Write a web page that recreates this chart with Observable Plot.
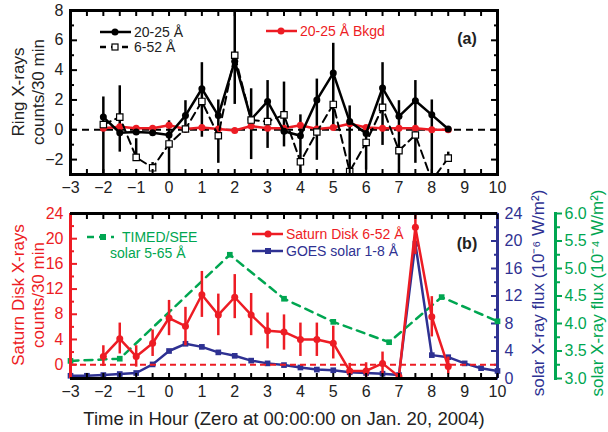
<!DOCTYPE html>
<html><head><meta charset="utf-8">
<script src="https://cdn.jsdelivr.net/npm/d3@7"></script>
<script src="https://cdn.jsdelivr.net/npm/@observablehq/plot@0.6"></script>
<style>
body{margin:0;background:#fff;}
#wrap{position:relative;width:608px;height:432px;font-family:"Liberation Sans",Arial,sans-serif;overflow:hidden;}
#wrap svg{position:absolute;left:0;}
</style></head><body><div id="wrap"></div>
<script>
// ---------- Panel (a): Ring X-rays ----------
const ringHours = [-2,-1.5,-1,-0.5,0,0.5,1,1.5,2,2.5,3,3.5,4,4.5,5,5.5,6,6.5,7,7.5,8,8.5];
const ring2025  = [0.85,-0.2,-0.15,-0.2,-0.35,0.95,2.75,0.95,4.6,0.7,1.9,-0.1,-0.4,2.0,3.8,0.55,-0.25,2.8,0.9,1.95,1.0,0.05];
const ring652   = [0.35,0.85,-1.85,-2.55,-0.95,0.05,1.9,-0.4,5.0,0.65,0.55,1.0,-2.15,-0.15,1.7,-2.8,-0.85,1.5,-1.4,-0.35,-3.4,-1.9];
const ringBkgd  = [0.1,0.2,0.1,0.1,0.3,0.05,0.15,0.05,-0.05,0.25,0.1,0.1,0.3,0.05,0.15,0.4,0.15,0.1,0.1,0.1,0.0,0.0];
const ringErrLo = [-3,-1.5,-1.7,-2.55,-3,-0.25,-0.5,-2.25,1.7,-2.0,-1.25,-1.15,-3,-2.05,0,-3,-2.7,-1.05,-3,-2.25,-3,-2.15];
const ringErrHi = [2.2,2.95,-0.6,-2.2,0.6,1.95,4.5,2.0,8,2.75,3.3,3.2,1.0,3.4,5.8,1.6,-0.15,4.5,1.95,3.3,2.0,-1.5];

// ---------- Panel (b): Saturn disk + solar ----------
const diskHours = [-2,-1.5,-1,-0.5,0,0.5,1,1.5,2,2.5,3,3.5,4,4.5,5,5.5,6,6.5,7,7.5,8,8.5];
const disk652   = [1.3,4.1,1.3,3.4,7.4,6.1,11.1,7.9,10.7,7.9,5.4,5.2,4.0,4.0,3.4,-1.0,-1.0,0.2,-1.9,21.8,7.6,-0.3];
const diskErrLo = [-0.3,1.7,-0.4,1.3,4.6,3.0,7.5,4.6,7.3,4.6,2.5,2.3,1.3,1.3,0.9,-2.2,-2.2,-1.5,-2.2,17.5,4.4,-1.5];
const diskErrHi = [3.0,6.6,3.0,5.5,10.2,9.1,14.8,11.2,14.3,11.3,8.2,7.9,6.6,6.6,6.1,0.2,0.3,2.0,-1.5,24,10.8,1.2];

const goesHours = [-3,-2.5,-2,-1.5,-1,-0.5,0,0.5,1,1.5,2,2.5,3,3.5,4,4.5,5,5.5,6,6.5,7,7.5,8,8.5,9,9.5,10];
const goesFlux  = [0.4,0.4,0.5,0.65,0.8,2.05,4.0,5.05,4.6,3.8,3.3,2.6,2.2,1.95,1.6,1.3,1.2,0.9,0.8,0.7,0.5,19.6,3.4,3.1,2.2,1.5,1.1];

const seeHours = [-3,-1.5,1.85,3.5,5,6.7,8.3,10];
const seeFlux  = [3.32,3.36,5.25,4.45,4.03,3.66,4.48,4.04];

// ---------- Tick labels ----------
const xTickLabels = [-3,-2,-1,0,1,2,3,4,5,6,7,8,9,10];
const xMinorTicks = d3.range(-3, 10.001, 0.5);
const ringYLabels = [-2,0,2,4,6,8];
const ringYMinor  = [-3,-1,1,3,5,7];
const diskYLabels = [0,4,8,12,16,20,24];
const diskYMinor  = [2,6,10,14,18,22];
const goesYLabels = [0,4,8,12,16,20,24];
const goesYMinor  = [2,6,10,14,18,22];
const seeYLabels  = [3.0,3.5,4.0,4.5,5.0,5.5,6.0];
const seeYMinor   = [3.25,3.75,4.25,4.75,5.25,5.75];

const RED = "#ed1c24", BLUE = "#2e3192", GREEN = "#00a651";
const FONT = '"Liberation Sans", Arial, sans-serif';
const TICKFS = 16;
const ringRows = ringHours.map((h,i)=>({h, a:ring2025[i], b:ring652[i], bk:ringBkgd[i], lo:ringErrLo[i], hi:ringErrHi[i]}));
const diskRows = diskHours.map((h,i)=>({h, v:disk652[i], lo:diskErrLo[i], hi:diskErrHi[i]}));
const goesRows = goesHours.map((h,i)=>({h, v:goesFlux[i]}));
const seeRows  = seeHours.map((h,i)=>({h, v:seeFlux[i]}));

const style = {background:"transparent", fontFamily:FONT, overflow:"visible"};
const blank = () => "";
function xTicksIn() {
  return [
    Plot.axisX(xMinorTicks, {anchor:"bottom", tickSize:-5, strokeWidth:2, tickFormat:blank, label:null}),
    Plot.axisX(xMinorTicks, {anchor:"top", tickSize:-5, strokeWidth:2, tickFormat:blank, label:null}),
    Plot.axisX(xTickLabels, {anchor:"bottom", tickSize:0, tickPadding:7, fontSize:TICKFS, label:null, fill:"#222"})
  ];
}

const wrap = document.getElementById("wrap");

// ---- Panel (a)
const pa = Plot.plot({
  width:608, height:200, marginLeft:70, marginRight:111, marginTop:10, marginBottom:26,
  style, x:{domain:[-3,10]}, y:{domain:[-3,8]},
  marks:[
    Plot.ruleY([0], {strokeDasharray:"7,5", strokeWidth:2}),
    Plot.ruleX(ringRows, {x:"h", y1:"lo", y2:"hi", strokeWidth:2.5, clip:true}),
    Plot.line(ringRows, {x:"h", y:"bk", stroke:RED, strokeWidth:2.5}),
    Plot.dot(ringRows, {x:"h", y:"bk", fill:RED, r:3.5}),
    Plot.line(ringRows, {x:"h", y:"a", strokeWidth:2.5, clip:true}),
    Plot.line(ringRows, {x:"h", y:"b", strokeWidth:2, strokeDasharray:"8,5", clip:true}),
    Plot.dot(ringRows, {x:"h", y:"a", fill:"black", r:3.5, clip:true}),
    Plot.dot(ringRows, {x:"h", y:"b", symbol:"square", r:3.6, fill:"white", stroke:"black", strokeWidth:1.2, clip:true}),
    ...xTicksIn(),
    Plot.axisY(ringYLabels, {anchor:"left", tickSize:-7, strokeWidth:2, tickPadding:14, fontSize:TICKFS, label:null, fill:"#222"}),
    Plot.axisY(ringYMinor, {anchor:"left", tickSize:-4, strokeWidth:2, tickFormat:blank, label:null}),
    Plot.axisY(ringYLabels, {anchor:"right", tickSize:-7, strokeWidth:2, tickFormat:blank, label:null}),
    Plot.axisY(ringYMinor, {anchor:"right", tickSize:-4, strokeWidth:2, tickFormat:blank, label:null}),
    Plot.frame({strokeWidth:3})
  ]
});
pa.style.top = "0px";

// ---- Panel (b) blue layer
const pbBlue = Plot.plot({
  width:608, height:232, marginLeft:70, marginRight:111, marginTop:13, marginBottom:54,
  style, x:{domain:[-3,10], axis:null}, y:{domain:[0,24]},
  marks:[
    Plot.line(goesRows, {x:"h", y:"v", stroke:BLUE, strokeWidth:2.5}),
    Plot.dot(goesRows, {x:"h", y:"v", symbol:"square", r:3.2, fill:BLUE}),
    Plot.axisY(goesYLabels, {anchor:"right", tickSize:-7, strokeWidth:2, tickPadding:14, fontSize:TICKFS, color:BLUE, label:null}),
    Plot.axisY(goesYMinor, {anchor:"right", tickSize:-4, strokeWidth:2, tickFormat:blank, color:BLUE, label:null}),
    Plot.ruleX([10], {stroke:BLUE, strokeWidth:3})
  ]
});
// ---- Panel (b) green layer
const pbGreen = Plot.plot({
  width:608, height:232, marginLeft:70, marginRight:53, marginTop:13, marginBottom:54,
  style, x:{domain:[-3,10], range:[70,497], axis:null}, y:{domain:[3,6]},
  marks:[
    Plot.line(seeRows, {x:"h", y:"v", stroke:GREEN, strokeWidth:2.5, strokeDasharray:"8,6"}),
    Plot.dot(seeRows, {x:"h", y:"v", symbol:"square", r:3.2, fill:GREEN}),
    Plot.axisY(seeYLabels, {anchor:"right", tickSize:6, strokeWidth:2, tickPadding:3, fontSize:TICKFS, color:GREEN, label:null, tickFormat:d3.format(".1f")}),
    Plot.axisY(seeYMinor, {anchor:"right", tickSize:4, strokeWidth:2, tickFormat:blank, color:GREEN, label:null}),
    Plot.frame({anchor:"right", stroke:GREEN, strokeWidth:3})
  ]
});
// ---- Panel (b) red layer
const pbRed = Plot.plot({
  width:608, height:232, marginLeft:70, marginRight:111, marginTop:13, marginBottom:54,
  style, x:{domain:[-3,10]}, y:{domain:[-2.2,24]},
  marks:[
    Plot.ruleY([0], {stroke:RED, strokeDasharray:"6,4", strokeWidth:2}),
    Plot.ruleX(diskRows, {x:"h", y1:"lo", y2:"hi", stroke:RED, strokeWidth:2.5, clip:true}),
    Plot.line(diskRows, {x:"h", y:"v", stroke:RED, strokeWidth:2.5, clip:true}),
    Plot.dot(diskRows, {x:"h", y:"v", fill:RED, r:3.5, clip:true}),
    ...xTicksIn(),
    Plot.axisY(diskYLabels, {anchor:"left", tickSize:-7, strokeWidth:2, tickPadding:14, fontSize:TICKFS, color:RED, label:null}),
    Plot.axisY(diskYMinor, {anchor:"left", tickSize:-4, strokeWidth:2, tickFormat:blank, color:RED, label:null}),
    Plot.ruleX([-3], {stroke:RED, strokeWidth:3}),
    Plot.ruleY([24], {strokeWidth:3}),
    Plot.ruleY([-2.2], {strokeWidth:3})
  ]
});
[pbBlue, pbGreen, pbRed].forEach(s => { s.style.top = "200px"; });
wrap.append(pa, pbBlue, pbGreen, pbRed);

// ---- Overlay: titles and legends
const ov = d3.select(wrap).append("svg").attr("width",608).attr("height",432).style("top","0px")
  .style("font-family", FONT);
function vtext(x, y, txt, color, size=17) {
  ov.append("text").attr("transform",`translate(${x},${y}) rotate(-90)`).attr("text-anchor","middle")
    .attr("dominant-baseline","central").attr("fill",color).attr("font-size",size).text(txt);
}
function htext(x, y, txt, color, size=14, weight="normal", anchor="start") {
  ov.append("text").attr("x",x).attr("y",y).attr("dominant-baseline","central").attr("text-anchor",anchor)
    .attr("fill",color).attr("font-size",size).attr("font-weight",weight).text(txt);
}
function lineSample(x1, x2, y, color, dash) {
  const l = ov.append("line").attr("x1",x1).attr("x2",x2).attr("y1",y).attr("y2",y)
    .attr("stroke",color).attr("stroke-width",2.5);
  if (dash) l.attr("stroke-dasharray",dash);
}
function circ(x,y,color){ ov.append("circle").attr("cx",x).attr("cy",y).attr("r",3.5).attr("fill",color); }
function sq(x,y,fill,stroke){ ov.append("rect").attr("x",x-3).attr("y",y-3).attr("width",6).attr("height",6)
  .attr("fill",fill).attr("stroke",stroke||"none").attr("stroke-width",1.2); }

vtext(18, 92, "Ring X-rays", "#222");
vtext(38, 92, "counts/30 min", "#222");
vtext(18, 295, "Saturn Disk X-rays", RED);
vtext(38, 295, "counts/30 min", RED);
vtext(538, 293, "solar X-ray flux (10\u207B\u2076 W/m\u00B2)", BLUE);
vtext(597, 293, "solar X-ray flux (10\u207B\u2074 W/m\u00B2)", GREEN);
htext(284, 418, "Time in Hour (Zero at  00:00:00 on Jan. 20, 2004)", "#222", 18.5, "normal", "middle");

// legend (a)
lineSample(100, 131, 32, "black"); circ(115, 32, "black"); htext(134, 32, "20-25 \u00C5", "#222");
lineSample(100, 131, 47, "black", "6,5"); sq(115, 47, "white", "black"); htext(134, 47, "6-52 \u00C5", "#222");
lineSample(266, 297, 31, RED); circ(281, 31, RED); htext(300, 31, "20-25 \u00C5 Bkgd", RED);
htext(467, 38, "(a)", "#222", 16, "bold", "middle");

// legend (b)
lineSample(87, 114, 237, GREEN, "7,5"); sq(103, 237, GREEN); htext(122, 237, "TIMED/SEE", GREEN);
htext(110, 253, "solar 5-65 \u00C5", GREEN);
lineSample(252, 283, 234, RED); circ(268, 234, RED); htext(286, 234, "Saturn Disk 6-52 \u00C5", RED);
lineSample(252, 283, 251, BLUE); sq(268, 251, BLUE); htext(286, 251, "GOES solar 1-8 \u00C5", BLUE);
htext(467, 243, "(b)", "#222", 16, "bold", "middle");
</script></body></html>
